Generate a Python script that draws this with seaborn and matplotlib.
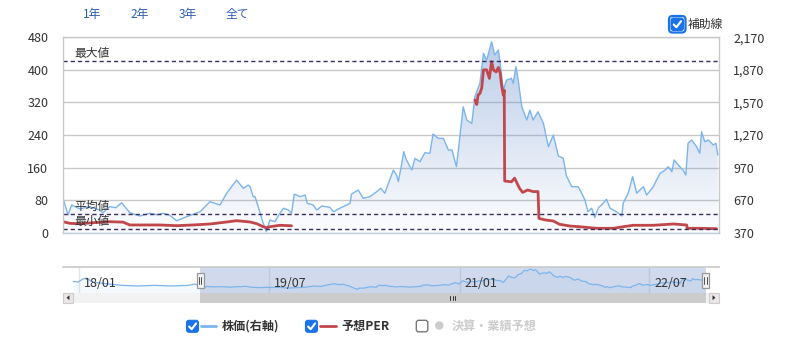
import numpy as np
import pandas as pd
import matplotlib
matplotlib.use("Agg")
import matplotlib.pyplot as plt
import matplotlib.dates as mdates
import matplotlib.transforms as mtransforms
from matplotlib.patches import FancyBboxPatch, Rectangle, Polygon, Circle
from matplotlib.ticker import FuncFormatter
import seaborn as sns

# ---------------- data ----------------
price_dates = [
    "2018-12-16", "2018-12-27", "2019-01-04", "2019-01-22", "2019-02-13", "2019-03-07",
    "2019-03-14", "2019-03-30", "2019-04-12", "2019-04-25", "2019-05-13", "2019-06-04",
    "2019-06-27", "2019-07-12", "2019-07-26", "2019-08-10", "2019-08-25", "2019-09-16",
    "2019-10-16", "2019-11-07", "2019-11-29", "2019-12-14", "2020-01-05", "2020-01-20",
    "2020-01-31", "2020-02-04", "2020-02-11", "2020-02-15", "2020-02-22", "2020-03-04",
    "2020-03-11", "2020-03-19", "2020-03-30", "2020-04-10", "2020-04-18", "2020-04-29",
    "2020-05-06", "2020-05-12", "2020-05-25", "2020-06-05", "2020-06-10", "2020-06-23",
    "2020-07-01", "2020-07-12", "2020-07-30", "2020-08-07", "2020-08-21", "2020-09-13",
    "2020-09-16", "2020-10-01", "2020-10-12", "2020-10-27", "2020-11-11", "2020-11-20",
    "2020-11-29", "2020-12-07", "2020-12-18", "2020-12-25", "2020-12-29", "2021-01-05",
    "2021-01-10", "2021-01-16", "2021-01-28", "2021-02-04", "2021-02-15", "2021-02-26",
    "2021-03-09", "2021-03-16", "2021-03-28", "2021-04-08", "2021-04-19", "2021-04-27",
    "2021-05-07", "2021-05-22", "2021-05-30", "2021-06-10", "2021-06-17", "2021-06-28",
    "2021-07-06", "2021-07-13", "2021-07-24", "2021-07-31", "2021-08-08", "2021-08-12",
    "2021-08-19", "2021-08-26", "2021-09-06", "2021-09-10", "2021-09-16", "2021-09-21",
    "2021-09-29", "2021-10-10", "2021-10-17", "2021-10-24", "2021-11-04", "2021-11-16",
    "2021-11-27", "2021-12-08", "2021-12-19", "2021-12-30", "2022-01-06", "2022-01-18",
    "2022-02-01", "2022-02-09", "2022-02-16", "2022-02-23", "2022-03-03", "2022-03-10",
    "2022-03-18", "2022-03-25", "2022-04-05", "2022-04-13", "2022-04-27", "2022-05-09",
    "2022-05-12", "2022-05-23", "2022-06-02", "2022-06-11", "2022-06-18", "2022-06-26",
    "2022-07-03", "2022-07-18", "2022-07-25", "2022-08-02", "2022-08-13", "2022-08-20",
    "2022-08-28", "2022-09-02", "2022-09-11", "2022-09-22", "2022-09-28", "2022-10-03",
    "2022-10-11", "2022-10-22", "2022-10-29", "2022-11-02", "2022-11-09", "2022-11-17",
    "2022-11-28", "2022-12-04", "2022-12-08",
]
price_values = [
    687, 533, 625, 590, 610, 579,
    554, 610, 600, 646, 554, 524,
    549, 535, 549, 530, 480, 517,
    563, 656, 625, 733, 855, 779,
    809, 794, 702, 702, 610, 457,
    379, 487, 471, 549, 595, 579,
    549, 726, 702, 717, 641, 625,
    579, 616, 604, 563, 595, 641,
    726, 763, 687, 702, 748, 779,
    733, 825, 947, 901, 840, 994,
    1116, 1040, 947, 1055, 1024, 1107,
    1101, 1279, 1239, 1239, 1132, 1132,
    978, 1530, 1408, 1377, 1623, 1746,
    2022, 1960, 2129, 2007, 2053, 1930,
    1684, 1776, 1792, 1746, 1899, 1776,
    1530, 1408, 1500, 1408, 1484, 1377,
    1162, 1270, 1078, 1055, 894, 794,
    794, 733, 671, 563, 595, 510,
    600, 625, 678, 595, 563, 524,
    641, 733, 886, 733, 763, 794,
    717, 794, 855, 917, 947, 978,
    932, 1040, 994, 947, 901, 1193,
    1224, 1162, 1101, 1300, 1208, 1224,
    1178, 1193, 1086,
]

# navigator-only history before the main window
nav_pre_dates = ["2017-12-16", "2017-12-30", "2018-01-12", "2018-01-22", "2018-02-10",
                 "2018-03-10", "2018-05-04", "2018-06-20", "2018-08-08", "2018-09-25",
                 "2018-11-11", "2018-12-01"]
nav_pre_values = [1060, 1000, 1250, 1350, 1000, 900, 720, 665, 720, 665, 720, 830]

per1_dates = ["2018-12-16", "2018-12-31", "2019-01-22", "2019-02-21", "2019-03-30",
              "2019-04-28", "2019-05-13", "2019-07-19", "2019-08-25", "2019-10-01",
              "2019-11-07", "2019-12-14", "2020-01-05", "2020-02-04", "2020-02-19",
              "2020-03-04", "2020-03-12", "2020-03-19", "2020-04-10", "2020-05-06"]
per1_values = [27, 23, 22, 24.6, 27, 26, 19, 19, 17.2, 19, 21.4, 26.3, 29.5, 26.3, 22,
               14.7, 12.3, 14.7, 18.2, 17]

per2_dates = ["2021-06-17", "2021-06-21", "2021-06-24", "2021-06-28", "2021-07-02",
              "2021-07-06", "2021-07-13", "2021-07-19", "2021-07-24", "2021-07-28",
              "2021-08-03", "2021-08-08", "2021-08-12", "2021-08-15", "2021-08-19",
              "2021-08-21", "2021-08-22", "2021-09-06", "2021-09-13", "2021-09-24",
              "2021-10-01", "2021-10-12", "2021-10-24", "2021-11-04", "2021-11-06",
              "2021-11-22", "2021-12-08", "2021-12-22", "2022-01-13", "2022-02-04",
              "2022-03-14", "2022-04-20", "2022-05-12", "2022-06-03", "2022-07-18",
              "2022-09-01", "2022-09-30", "2022-10-01", "2022-10-29", "2022-12-05"]
per2_values = [326, 315, 338, 342, 355, 400, 400, 379, 420, 400,
               395, 406, 392, 363, 338, 350, 127, 125, 134, 109,
               99, 105, 101, 101, 35, 31, 28.7, 20.6, 16.5, 14.7,
               10.8, 10.8, 14.7, 18.2, 18.2, 21.4, 18.9, 10.8, 10.8, 9.8]

ref_names = ["最大値", "平均値", "最小値"]
ref_values = [421.8, 45.9, 9.1]

left_ticks = [0, 80, 160, 240, 320, 400, 480]
right_ticks = [370, 670, 970, 1270, 1570, 1870, 2170]
x_tick_dates = ["2019-01-01", "2019-07-01", "2020-01-01", "2020-07-01",
                "2021-01-01", "2021-07-01", "2022-01-01", "2022-07-01"]
x_tick_labels = ["19/01", "19/07", "20/01", "20/07", "21/01", "21/07", "22/01", "22/07"]
nav_tick_dates = ["2018-01-01", "2019-07-01", "2021-01-01", "2022-07-01"]
nav_tick_labels = ["18/01", "19/07", "21/01", "22/07"]
range_buttons = ["1年", "2年", "3年", "全て"]
legend_labels = ["株価(右軸)", "予想PER", "決算・業績予想"]
aux_label = "補助線"

# ---------------- style ----------------
sns.set_theme(style="white")
plt.rcParams["font.family"] = ["Noto Sans CJK JP", "DejaVu Sans"]

PRICE_C = "#7cb5ec"
PER_C = "#c1474a"
TXT_C = "#333333"
GRID_C = "#c8c8c8"
REF_C = "#3b2d5e"
BLUE_BOX = "#1a73e8"

W, H = 787, 350
fig = plt.figure(figsize=(W / 100, H / 100), dpi=100)

L, R, T, B = 63, 719, 37.3, 232.7
ax2 = fig.add_axes([L / W, 1 - B / H, (R - L) / W, (B - T) / H])
ax = ax2.twinx()
ax.yaxis.tick_left()
ax.yaxis.set_label_position("left")
ax2.yaxis.tick_right()
ax2.yaxis.set_label_position("right")
ax.set_zorder(ax2.get_zorder() + 1)
ax.patch.set_visible(False)

PX_PER_DAY = 0.4506
x0 = pd.Timestamp("2019-01-01") + pd.Timedelta(days=(L - 70.3) / PX_PER_DAY)
x1 = pd.Timestamp("2019-01-01") + pd.Timedelta(days=(R - 70.3) / PX_PER_DAY)

pdates = pd.to_datetime(price_dates)
pvals = np.array(price_values, dtype=float)

# price area with gradient
fb = ax2.fill_between(pdates, pvals, right_ticks[0], color="none", lw=0)
clip_path = fb.get_paths()[0]
n = 256
alpha = np.linspace(0.45, 0.02, n)
grad = np.zeros((n, 1, 4))
grad[:, 0, 0] = 100 / 255
grad[:, 0, 1] = 140 / 255
grad[:, 0, 2] = 205 / 255
grad[:, 0, 3] = alpha
im = ax2.imshow(grad, extent=[mdates.date2num(x0), mdates.date2num(x1), right_ticks[0], right_ticks[-1]],
                aspect="auto", origin="upper", zorder=1, interpolation="bilinear")
im.set_clip_path(clip_path, transform=ax2.transData)

sns.lineplot(x=pdates, y=pvals, ax=ax2, color=PRICE_C, linewidth=1.0, zorder=3)

ax2.set_ylim(right_ticks[0], right_ticks[-1])
ax2.set_yticks(right_ticks)
ax2.yaxis.set_major_formatter(FuncFormatter(lambda v, p: f"{int(round(v)):,}"))
ax2.grid(axis="y", color=GRID_C, lw=1)
ax2.grid(axis="x", visible=False)
ax2.set_axisbelow(True)
ax2.tick_params(axis="y", length=0, pad=10.3, labelsize=9, colors=TXT_C)
for s in ax2.spines.values():
    s.set_visible(False)
ax2.set_ylabel("")
ax2.set_xlabel("")

# PER lines
sns.lineplot(x=pd.to_datetime(per1_dates), y=per1_values, ax=ax, color=PER_C, linewidth=2.0)
sns.lineplot(x=pd.to_datetime(per2_dates), y=per2_values, ax=ax, color=PER_C, linewidth=2.0)

for name, v in zip(ref_names, ref_values):
    ax.axhline(v, color=REF_C, lw=1, ls=(0, (3, 2.2)), zorder=2)
    ax.annotate(name, xy=((74 - L) / (R - L), v),
                xycoords=mtransforms.blended_transform_factory(ax.transAxes, ax.transData),
                xytext=(0, 5.4), textcoords="offset points", ha="left", va="center",
                fontsize=8.5, color=TXT_C)

ax.set_ylim(left_ticks[0], left_ticks[-1])
ax.set_yticks(left_ticks)
ax.tick_params(axis="y", length=0, pad=10.5, labelsize=9, colors=TXT_C)
ax.set_xlim(x0, x1)
ax.set_xticks(pd.to_datetime(x_tick_dates))
ax.set_xticklabels(x_tick_labels)
ax.tick_params(axis="x", length=5, width=1, color="#c0d0e0", pad=2.5, labelsize=9,
               labelcolor=TXT_C, bottom=True)
ax2.tick_params(axis="x", bottom=False, labelbottom=False)
ax.set_ylabel("")
ax.set_xlabel("")
for k in ["left", "right", "top"]:
    ax.spines[k].set_visible(True)
    ax.spines[k].set_color(GRID_C)
    ax.spines[k].set_linewidth(1)
ax.spines["bottom"].set_color("#c0d0e0")
ax.spines["bottom"].set_linewidth(1)

# ---------------- navigator ----------------
NAV_T, NAV_B = 267, 292.7
HANDLE_L = 200
NAV_PX_PER_DAY = 0.3475
nav = fig.add_axes([L / W, 1 - NAV_B / H, (R - L) / W, (NAV_B - NAV_T) / H])
nx0 = x0 - pd.Timedelta(days=(HANDLE_L - L) / NAV_PX_PER_DAY)
nx1 = x0 + pd.Timedelta(days=(R - HANDLE_L) / NAV_PX_PER_DAY)
nav_dates = pd.to_datetime(nav_pre_dates + price_dates)
nav_vals = np.array(nav_pre_values + price_values, dtype=float)
NAV_YMIN, NAV_YMAX = 86, 2301
nav.fill_between(nav_dates, nav_vals, NAV_YMIN, color=PRICE_C, alpha=0.08, lw=0)
sns.lineplot(x=nav_dates, y=nav_vals, ax=nav, color=PRICE_C, linewidth=0.9)
for d in pd.to_datetime(nav_tick_dates):
    nav.axvline(d, color="#e6e6e6", lw=1, zorder=0)
nav.axvspan(x0, x1, color=(102 / 255, 133 / 255, 194 / 255), alpha=0.3, lw=0, zorder=1)
nav_blend = mtransforms.blended_transform_factory(nav.transData, nav.transAxes)
for d, lab in zip(pd.to_datetime(nav_tick_dates), nav_tick_labels):
    nav.annotate(lab, xy=(mdates.date2num(d), 0.36), xycoords=nav_blend,
                 xytext=(3.8, 0), textcoords="offset points", ha="left", va="center",
                 fontsize=9, color=TXT_C, zorder=4)
nav.set_xlim(nx0, nx1)
nav.set_ylim(NAV_YMIN, NAV_YMAX)
nav.set_xticks([])
nav.set_yticks([])
nav.set_xlabel("")
nav.set_ylabel("")
for k, s in nav.spines.items():
    s.set_visible(k == "top")
nav.spines["top"].set_color("#cccccc")
nav.patch.set_alpha(0)

HANDLE_R = HANDLE_L + (x1 - x0).days * NAV_PX_PER_DAY

# ---------------- overlay (UI chrome) ----------------
ov = fig.add_axes([0, 0, 1, 1])
ov.set_xlim(0, W)
ov.set_ylim(H, 0)
ov.axis("off")
ov.patch.set_alpha(0)

# range buttons
for lab, xb in zip(range_buttons, [82.7, 130, 179, 226]):
    ov.text(xb, 14.3, lab, ha="left", va="center", fontsize=8.5, color="#2a5bb5")


def checkbox(xl, yt, size, checked=True, ring=False):
    if ring:
        ov.add_patch(FancyBboxPatch((xl - 2, yt - 2), size + 4, size + 4,
                                    boxstyle="round,pad=0,rounding_size=3.5",
                                    fc="white", ec=BLUE_BOX, lw=1.6))
    if checked:
        ov.add_patch(FancyBboxPatch((xl, yt), size, size, boxstyle="round,pad=0,rounding_size=2.5",
                                    fc=BLUE_BOX, ec=BLUE_BOX, lw=0.8))
        ov.plot([xl + size * 0.22, xl + size * 0.43, xl + size * 0.80],
                [yt + size * 0.52, yt + size * 0.74, yt + size * 0.26],
                color="white", lw=1.5, solid_capstyle="round", solid_joinstyle="round")
    else:
        ov.add_patch(FancyBboxPatch((xl, yt), size, size, boxstyle="round,pad=0,rounding_size=2.5",
                                    fc="white", ec="#767676", lw=1.0))


# auxiliary-line checkbox
checkbox(671, 18, 12.5, checked=True, ring=True)
ov.text(687.5, 24.2, aux_label, ha="left", va="center", fontsize=8.5, color=TXT_C)

# legend
LY = 326.3
checkbox(186.5, 320.3, 12)
ov.plot([200.7, 216], [LY, LY], color=PRICE_C, lw=2)
ov.text(221.7, LY, legend_labels[0], ha="left", va="center", fontsize=8.7, fontweight="bold", color=TXT_C)
checkbox(305.5, 320.3, 12)
ov.plot([320, 335.7], [LY, LY], color=PER_C, lw=2)
ov.text(341, LY, legend_labels[1], ha="left", va="center", fontsize=8.7, fontweight="bold", color=TXT_C)
checkbox(416.3, 320.3, 11.5, checked=False)
ov.add_patch(Circle((439.2, LY - 0.8), 3.5, color="#cccccc"))
ov.text(451.7, LY, legend_labels[2], ha="left", va="center", fontsize=8.7, fontweight="bold", color="#cccccc")

# scrollbar
SB_T, SB_B = 292.7, 302.7
ov.add_patch(Rectangle((L, SB_T), R - L, SB_B - SB_T, fc="#f2f2f2", ec="none"))
ov.add_patch(Rectangle((HANDLE_L, SB_T), HANDLE_R - HANDLE_L, SB_B - SB_T, fc="#cccccc", ec="none"))
ov.add_patch(Rectangle((L, SB_T), 10, SB_B - SB_T, fc="#ebe7e8", ec="#cccccc", lw=0.8))
ov.add_patch(Rectangle((R - 10, SB_T), 10, SB_B - SB_T, fc="#ebe7e8", ec="#cccccc", lw=0.8))
cy = (SB_T + SB_B) / 2
ov.add_patch(Polygon([[L + 6.5, cy - 2.5], [L + 6.5, cy + 2.5], [L + 3.5, cy]], closed=True, fc=TXT_C, ec="none"))
ov.add_patch(Polygon([[R - 6.5, cy - 2.5], [R - 6.5, cy + 2.5], [R - 3.5, cy]], closed=True, fc=TXT_C, ec="none"))
gx = (HANDLE_L + HANDLE_R) / 2
for dx in (-2.5, 0, 2.5):
    ov.plot([gx + dx, gx + dx], [cy - 2.2, cy + 2.2], color=TXT_C, lw=0.7)

# navigator handles
for hx in (HANDLE_L, HANDLE_R):
    ov.add_patch(Rectangle((hx - 3.5, 272.5), 7, 15, fc="#f2f2f2", ec="#999999", lw=0.9))
    for dx in (-1.2, 1.2):
        ov.plot([hx + dx, hx + dx], [276.5, 283.5], color="#333333", lw=0.6)

fig.savefig("out.png", dpi=100)
